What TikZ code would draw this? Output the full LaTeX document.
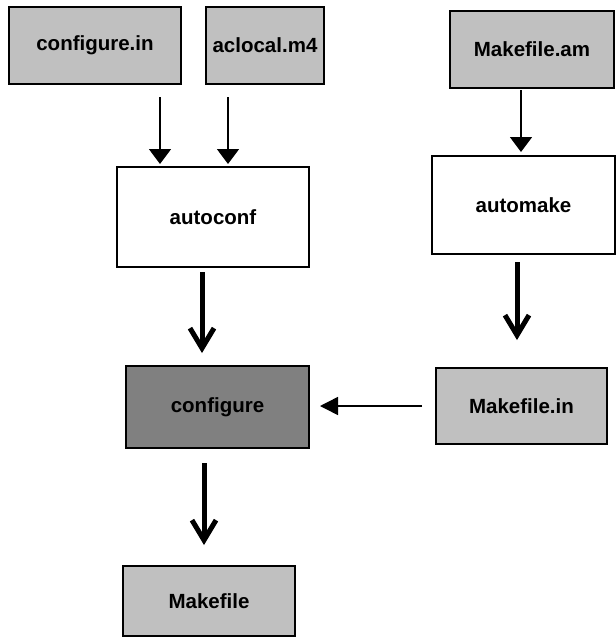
\documentclass[tikz,border=0pt]{standalone}
\usepackage{fontspec}
\setmainfont{Liberation Sans}
\usetikzlibrary{arrows.meta,calc}
\definecolor{lightgr}{RGB}{192,192,192}
\definecolor{darkgr}{RGB}{128,128,128}
\begin{document}
\begin{tikzpicture}[x=1pt,y=-1pt,
  box/.style={draw=black, line width=1.5pt, anchor=north west, inner sep=0pt, outer sep=0pt,
    font=\bfseries\fontsize{20.5}{25}\selectfont, text=black},
  lbox/.style={box, fill=lightgr},
  wbox/.style={box, fill=white},
  dbox/.style={box, fill=darkgr},
  thinarr/.style={line width=1.5pt, -{Triangle[length=15pt,width=22pt]}},
  harr/.style={line width=1.5pt, -{Triangle[length=18pt,width=18pt]}},
  thickarr/.style={line width=5pt, -{Straight Barb[length=20pt,width=24pt,line width=5pt]}}]
\useasboundingbox[fill=white] (0,0) rectangle (616,638);
\node[lbox, minimum width=172pt, minimum height=77pt] (cin) at (9,7) {configure.in};
\node[lbox, minimum width=118pt, minimum height=77pt] (acl) at (206,7) {aclocal.m4};
\node[lbox, minimum width=164pt, minimum height=77pt] (mam) at (450,11) {Makefile.am};
\node[wbox, minimum width=192pt, minimum height=100pt] (aconf) at (117,167) {autoconf};
\node[wbox, minimum width=183pt, minimum height=98pt] (amake) at (432,156) {automake};
\node[dbox, minimum width=183pt, minimum height=82pt] (conf) at (126,366) {configure};
\node[lbox, minimum width=171pt, minimum height=76pt] (minp) at (436,368) {Makefile.in};
\node[lbox, minimum width=172pt, minimum height=70pt] (mf) at (123,566) {Makefile};

\draw[thinarr] ($(cin.south west)+(151,13)$) -- ($(aconf.north west)+(43,-3)$);
\draw[thinarr] ($(acl.south west)+(22,13)$) -- ($(aconf.north west)+(111,-3)$);
\draw[thinarr] ($(mam.south west)+(71,2)$) -- ($(amake.north west)+(89,-4)$);
\draw[thickarr] ($(aconf.south west)+(85,5)$) -- ($(conf.north west)+(76,-13)$);
\draw[thickarr] ($(amake.south west)+(85,8)$) -- ($(minp.north west)+(81,-28)$);
\coordinate (hstart) at ($(minp.west)+(-14,0)$);
\draw[harr] (hstart) -- ($(conf.east |- hstart)+(11,0)$);
\draw[thickarr] ($(conf.south west)+(78,15)$) -- ($(mf.north west)+(81,-21)$);
\end{tikzpicture}
\end{document}
